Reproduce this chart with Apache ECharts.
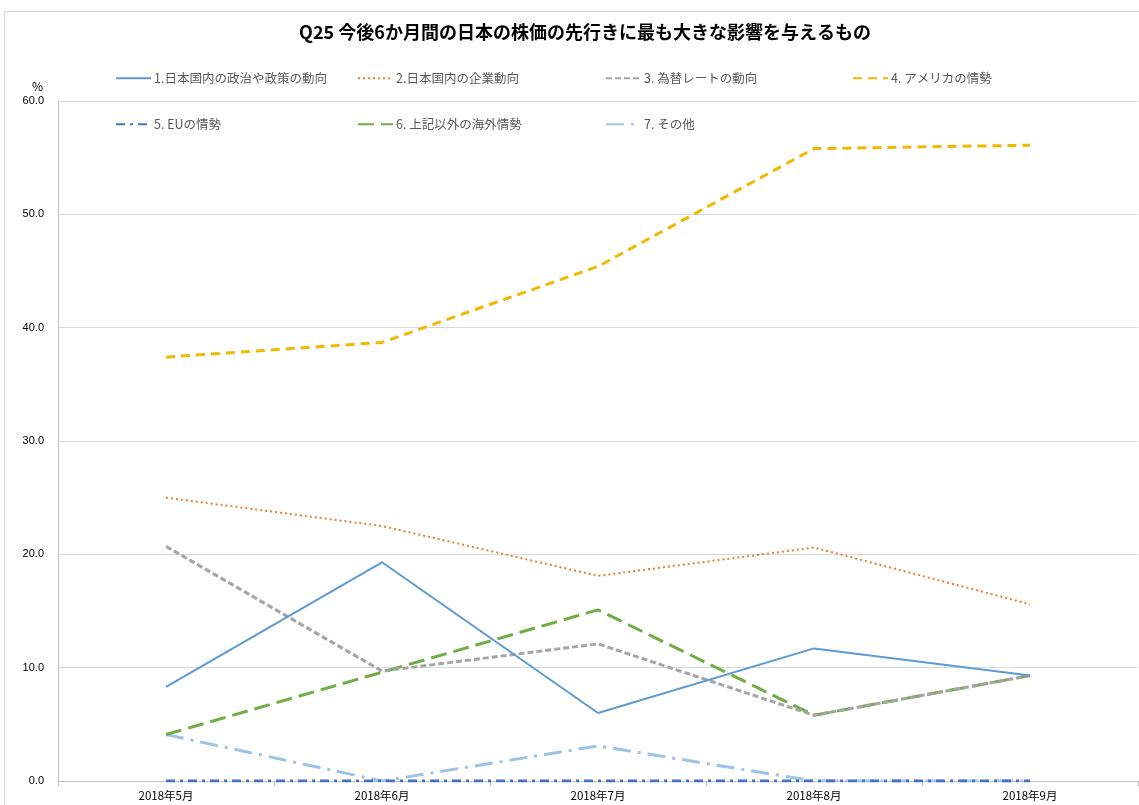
<!DOCTYPE html>
<html>
<head>
<meta charset="utf-8">
<script src="https://cdn.jsdelivr.net/npm/echarts@6/dist/echarts.min.js"></script>
<style>
  html, body { margin: 0; padding: 0; background: #fff; }
  #chart { width: 1139px; height: 805px; }
</style>
</head>
<body>
<div id="chart"></div>
<script>
// 横軸（調査月）
var months = ["2018年5月", "2018年6月", "2018年7月", "2018年8月", "2018年9月"];
// 系列名
var names = [
  "1.日本国内の政治や政策の動向",
  "2.日本国内の企業動向",
  "3. 為替レートの動向",
  "4. アメリカの情勢",
  "5. EUの情勢",
  "6. 上記以外の海外情勢",
  "7. その他"
];
// 各系列の値（%）
var seiji   = [8.3, 19.3, 6.0, 11.7, 9.3];
var kigyo   = [25.0, 22.5, 18.1, 20.6, 15.6];
var kawase  = [20.7, 9.7, 12.1, 5.8, 9.3];
var america = [37.4, 38.7, 45.4, 55.8, 56.1];
var eu      = [0.0, 0.0, 0.0, 0.0, 0.0];
var kaigai  = [4.1, 9.6, 15.1, 5.8, 9.3];
var sonota  = [4.1, 0.0, 3.1, 0.0, 0.0];
// 縦軸の目盛
var yTicks = [0, 10, 20, 30, 40, 50, 60];

var chart = echarts.init(document.getElementById("chart"));

var jp = "'Noto Sans CJK JP', 'Noto Sans', sans-serif";

// 線のスタイル（色・太さ・破線パターン）
var styles = [
  { color: "#5B9BD5", width: 2, type: "solid" },
  { color: "#ED7D31", width: 2, type: [2, 3] },
  { color: "#A5A5A5", width: 3, type: [6, 3] },
  { color: "#F2B800", width: 3, type: [9, 6] },
  { color: "#4472C4", width: 3, type: [9, 5, 3, 5] },
  { color: "#70AD47", width: 3, type: [16, 7] },
  { color: "#9DC3E6", width: 3, type: [18, 7, 3, 7] }
];
var values = [seiji, kigyo, kawase, america, eu, kaigai, sonota];

var series = names.map(function (n, i) {
  return {
    name: n,
    type: "line",
    data: values[i],
    symbol: "none",
    z: 10 - i,
    itemStyle: { color: styles[i].color },
    lineStyle: styles[i]
  };
});

// 凡例の位置（2段）
var legendPos = [
  [115, 72], [357, 72], [605, 72], [852, 72],
  [115, 118], [357, 118], [605, 118]
];
var legends = names.map(function (n, i) {
  return {
    data: [n],
    left: legendPos[i][0],
    top: legendPos[i][1],
    padding: 0,
    itemWidth: 35,
    itemHeight: 14,
    itemGap: 4,
    itemStyle: { opacity: 0 },
    textStyle: { fontFamily: jp, fontSize: 12.5, color: "#595959", padding: [0, 0, 0, -2] }
  };
});

var option = {
  animation: false,
  title: {
    text: "Q25 今後6か月間の日本の株価の先行きに最も大きな影響を与えるもの",
    left: 580,
    textAlign: "center",
    top: 18,
    textStyle: { fontFamily: jp, fontSize: 18, fontWeight: "bold", color: "#000" }
  },
  legend: legends,
  graphic: [
    {
      type: "rect",
      shape: { x: 4.5, y: 11.5, width: 1140, height: 800 },
      style: { fill: "none", stroke: "#d9d9d9", lineWidth: 1 },
      silent: true
    },
    {
      type: "text",
      left: 32,
      top: 80,
      style: { text: "%", fontFamily: jp, fontSize: 12, fill: "#000" }
    }
  ],
  grid: { left: 58, right: 1, top: 101, bottom: 24, containLabel: false },
  xAxis: {
    type: "category",
    data: months,
    boundaryGap: true,
    axisLine: { lineStyle: { color: "#bfbfbf" } },
    axisTick: { show: true, length: 5, lineStyle: { color: "#bfbfbf" } },
    axisLabel: { fontFamily: jp, fontSize: 11.5, color: "#000", margin: 9 }
  },
  yAxis: {
    type: "value",
    min: yTicks[0],
    max: yTicks[yTicks.length - 1],
    interval: 10,
    axisLine: { show: true, lineStyle: { color: "#bfbfbf" } },
    axisTick: { show: false },
    splitLine: { lineStyle: { color: "#d9d9d9" } },
    axisLabel: {
      fontFamily: "'Liberation Sans', sans-serif",
      fontSize: 11,
      color: "#000",
      margin: 14,
      formatter: function (v) { return v.toFixed(1); }
    }
  },
  series: series
};

chart.setOption(option);
</script>
</body>
</html>
